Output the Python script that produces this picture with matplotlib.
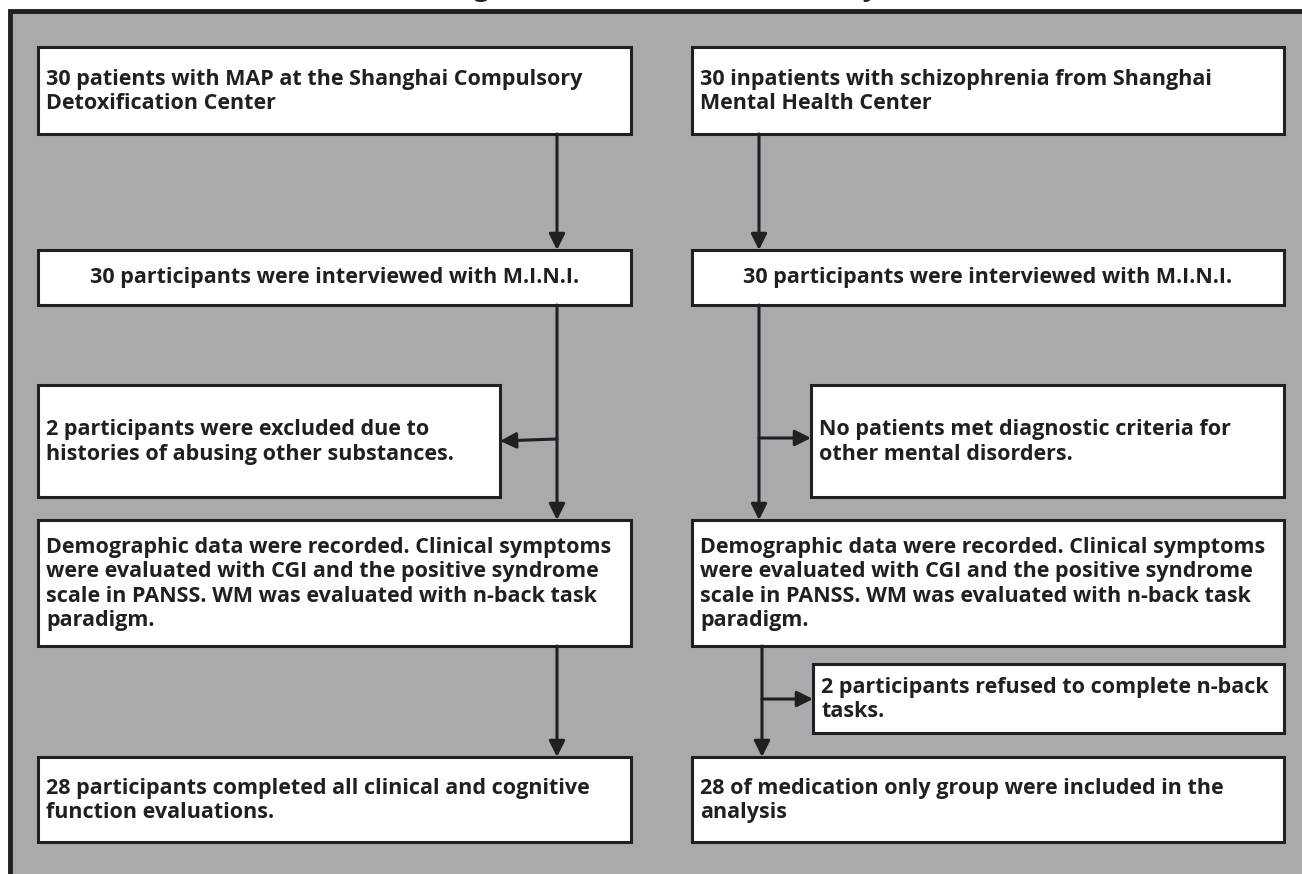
import matplotlib
matplotlib.use("Agg")
import matplotlib.pyplot as plt
from matplotlib.patches import Rectangle

W, H = 1302, 874
GRAY = "#a9aaad"
INK = "#231f20"
FONT = "Open Sans"

# box texts
left_texts = [
    "30 patients with MAP at the Shanghai Compulsory\nDetoxification Center",
    "30 participants were interviewed with M.I.N.I.",
    "2 participants were excluded due to\nhistories of abusing other substances.",
    "Demographic data were recorded. Clinical symptoms\nwere evaluated with CGI and the positive syndrome\n"
    "scale in PANSS. WM was evaluated with n-back task\nparadigm.",
    "28 participants completed all clinical and cognitive\nfunction evaluations.",
]
right_texts = [
    "30 inpatients with schizophrenia from Shanghai\nMental Health Center",
    "30 participants were interviewed with M.I.N.I.",
    "No patients met diagnostic criteria for\nother mental disorders.",
    "Demographic data were recorded. Clinical symptoms\nwere evaluated with CGI and the positive syndrome\n"
    "scale in PANSS. WM was evaluated with n-back task\nparadigm.",
    "2 participants refused to complete n-back\ntasks.",
    "28 of medication only group were included in the\nanalysis",
]
title = "Figure 1 Flowchart of the study"

# layout in pixels (x0, y0, x1, y1), y measured from top
left_boxes = [(38, 47, 631, 134), (38, 250, 631, 305), (38, 385, 500, 497),
              (38, 520, 631, 646), (38, 757, 631, 842)]
right_boxes = [(692, 47, 1284, 134), (692, 250, 1284, 305), (811, 385, 1284, 497),
               (692, 520, 1284, 646), (813, 664, 1284, 733), (692, 757, 1284, 842)]
centered = {1}

fig = plt.figure(figsize=(W / 100, H / 100), dpi=100)
fig.patch.set_facecolor("white")
ax = fig.add_axes([0, 0, 1, 1])
ax.set_xlim(0, W)
ax.set_ylim(H, 0)
ax.axis("off")

# grey panel with dark frame on left/top
ax.add_patch(Rectangle((10, 11), W + 20, H + 20, facecolor=GRAY, edgecolor=INK, lw=3.5))
# title sits above the crop, only its descenders show (as in the source)
fig.text(450 / W, 1 + 5 / H, title, ha="left", va="baseline", fontsize=20,
         fontweight="bold", family=FONT, color=INK)


def draw_box(b, text, center=False):
    x0, y0, x1, y1 = b
    ax.add_patch(Rectangle((x0, y0), x1 - x0, y1 - y0, facecolor="white", edgecolor=INK, lw=2.2))
    kw = dict(va="center", fontsize=15.5, fontweight="bold", family=FONT, color=INK,
              linespacing=1.22)
    if center:
        ax.text((x0 + x1) / 2, (y0 + y1) / 2, text, ha="center", **kw)
    else:
        ax.text(x0 + 8, (y0 + y1) / 2 + 1, text, ha="left", **kw)


for i, (b, t) in enumerate(zip(left_boxes, left_texts)):
    draw_box(b, t, i in centered)
for i, (b, t) in enumerate(zip(right_boxes, right_texts)):
    draw_box(b, t, i in centered)


def arrow(x0, y0, x1, y1):
    ax.annotate("", xy=(x1, y1), xytext=(x0, y0),
                arrowprops=dict(arrowstyle="-|>", lw=2.2, color=INK, mutation_scale=24,
                                shrinkA=0, shrinkB=0))


LX, RX, RX2 = 557, 759, 762
# left column
arrow(LX, 134, LX, 250)
arrow(LX, 305, LX, 520)
arrow(LX, 439, 500, 441)
arrow(LX, 646, LX, 757)
# right column
arrow(RX, 134, RX, 250)
arrow(RX, 305, RX, 520)
arrow(RX, 438, 811, 438)
arrow(RX2, 646, RX2, 757)
arrow(RX2, 699, 813, 699)

fig.savefig("out.png", dpi=100, facecolor="white")
